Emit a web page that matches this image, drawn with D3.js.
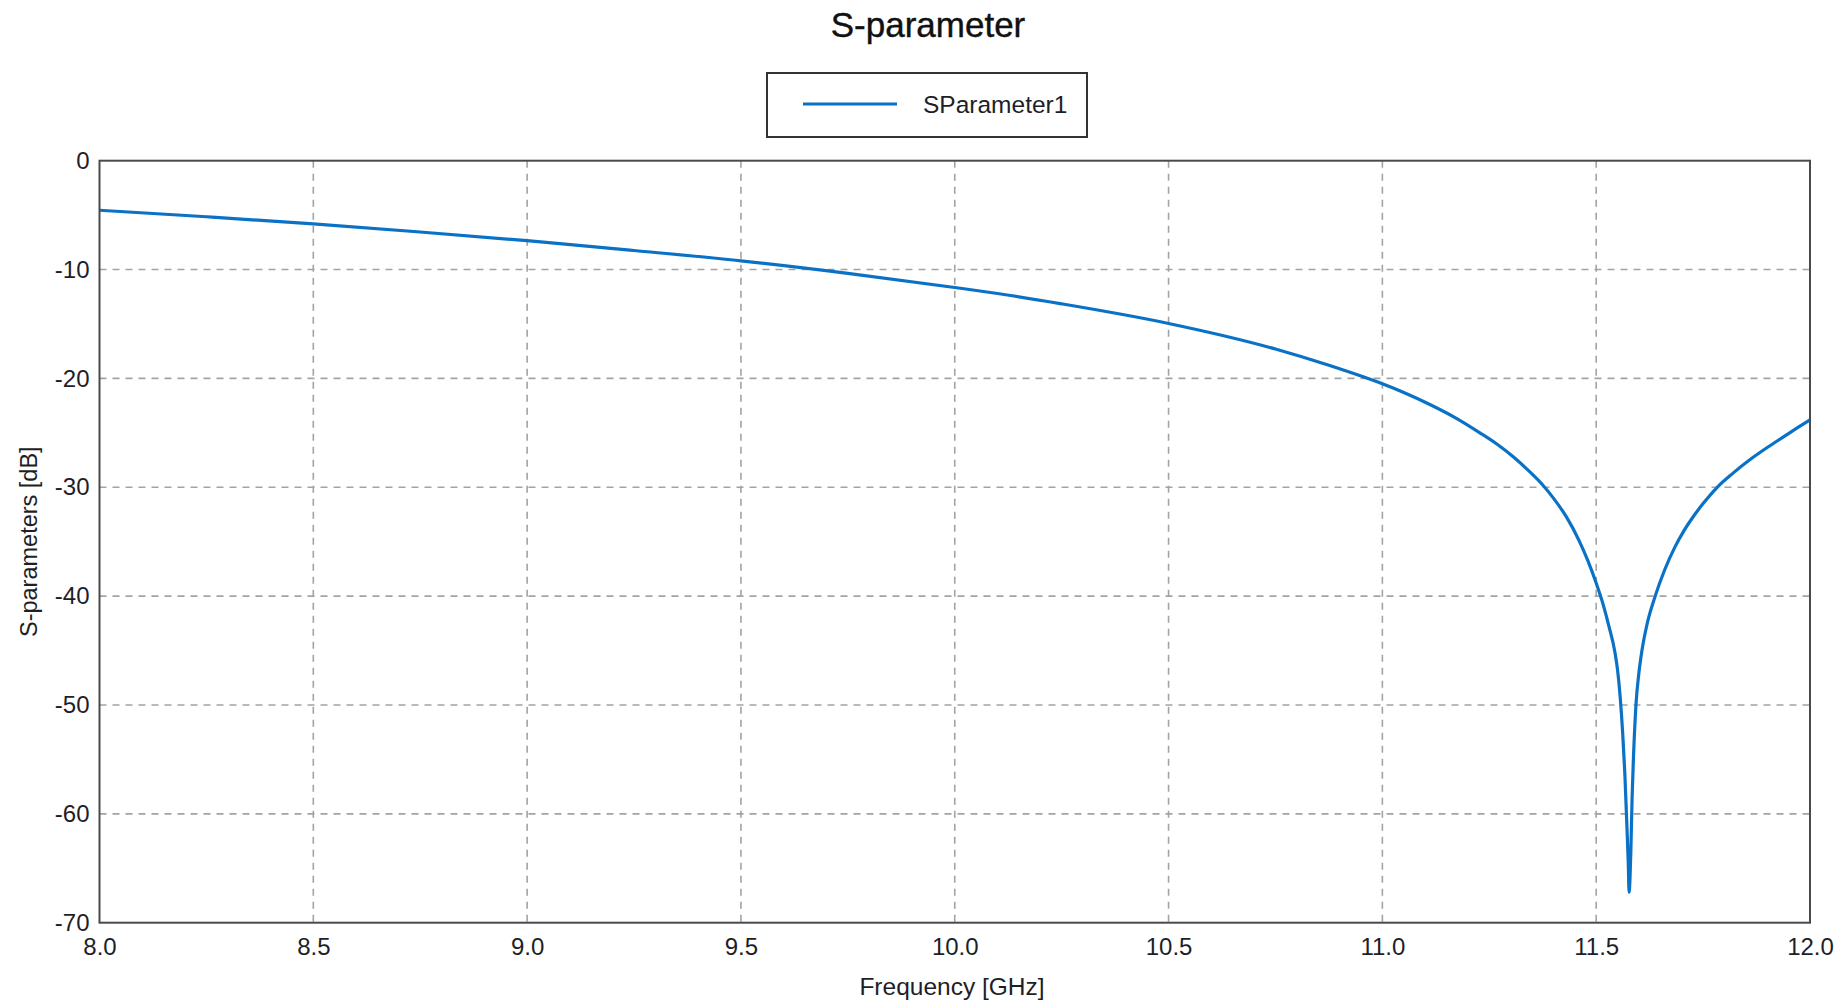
<!DOCTYPE html>
<html>
<head>
<meta charset="utf-8">
<script src="https://cdn.jsdelivr.net/npm/d3@7"></script>
<style>
  html, body { margin: 0; padding: 0; background: #fff; }
  svg { display: block; font-family: "Liberation Sans", Arial, sans-serif; }
</style>
</head>
<body>
<svg id="chart" width="1835" height="1004"></svg>
<script>
// ---- data ----
const title = "S-parameter";
const seriesName = "SParameter1";
const xLabel = "Frequency [GHz]";
const yLabel = "S-parameters [dB]";
const xTicks = [8.0, 8.5, 9.0, 9.5, 10.0, 10.5, 11.0, 11.5, 12.0];
const yTicks = [0, -10, -20, -30, -40, -50, -60, -70];
const freqGHz = [8.00, 8.25, 8.50, 8.75, 9.00, 9.25, 9.50, 9.75, 10.00, 10.10, 10.25, 10.50, 10.75, 10.875, 11.00,
  11.05, 11.111, 11.17, 11.228, 11.27, 11.306, 11.34, 11.373, 11.40, 11.43, 11.46, 11.48, 11.50, 11.515, 11.53,
  11.544, 11.550, 11.556, 11.562, 11.567, 11.572, 11.575, 11.577,
  11.579, 11.581, 11.584, 11.587, 11.593, 11.600, 11.607, 11.62, 11.638, 11.66, 11.684, 11.705, 11.726, 11.75,
  11.783, 11.82, 11.86, 11.90, 11.937, 11.97, 12.00];
const sParamDb = [-4.55, -5.15, -5.8, -6.55, -7.35, -8.25, -9.2, -10.35, -11.65, -12.2, -13.15, -14.95, -17.3, -18.8, -20.5,
  -21.3, -22.4, -23.6, -25.0, -26.1, -27.2, -28.4, -29.7, -31.0, -32.7, -34.9, -36.7, -38.8, -40.6, -42.8,
  -45.2, -46.8, -49.2, -52.6, -56.3, -61.3, -64.5, -67.2,
  -66.0, -63.5, -58.5, -55.0, -50.0, -47.0, -45.0, -42.4, -40.0, -37.6, -35.5, -34.0, -32.75, -31.5,
  -30.0, -28.7, -27.45, -26.35, -25.4, -24.55, -23.8];

// ---- layout ----
const svg = d3.select("#chart");
const plot = { left: 99.5, right: 1810, top: 160.7, bottom: 922.7 };
const x = d3.scaleLinear().domain([8, 12]).range([plot.left, plot.right]);
const y = d3.scaleLinear().domain([0, -70]).range([plot.top, plot.bottom]);
const fontSize = 24;
const textColor = "#1e1e28";

// grid
const grid = svg.append("g").attr("stroke", "#a3a3a3").attr("stroke-width", 1.6).attr("stroke-dasharray", "7,6");
grid.selectAll("line.v").data(xTicks.slice(1, -1)).join("line")
  .attr("x1", d => x(d)).attr("x2", d => x(d)).attr("y1", plot.top).attr("y2", plot.bottom);
grid.selectAll("line.h").data(yTicks.slice(1, -1)).join("line")
  .attr("x1", plot.left).attr("x2", plot.right).attr("y1", d => y(d)).attr("y2", d => y(d));

// axes (labels only, no tick marks)
const xAxis = d3.axisBottom(x).tickValues(xTicks).tickFormat(d3.format(".1f")).tickSize(0).tickPadding(16);
const gx = svg.append("g").attr("transform", `translate(0,${plot.bottom})`).call(xAxis);
const yAxis = d3.axisLeft(y).tickValues(yTicks).tickFormat(d => String(d)).tickSize(0).tickPadding(10);
const gy = svg.append("g").attr("transform", `translate(${plot.left},0)`).call(yAxis);
[gx, gy].forEach(g => {
  g.select(".domain").remove();
  g.selectAll("text").attr("font-size", fontSize).attr("fill", textColor)
    .attr("font-family", "'Liberation Sans', Arial, sans-serif");
});
gx.selectAll("text").attr("dy", "0.7em");

// curve
const line = d3.line().x((d, i) => x(freqGHz[i])).y(d => y(d)).curve(d3.curveMonotoneX);
svg.append("path").datum(sParamDb)
  .attr("d", line).attr("fill", "none").attr("stroke", "#0a72c6").attr("stroke-width", 3.2)
  .attr("stroke-linejoin", "round");

// frame
svg.append("rect").attr("x", plot.left).attr("y", plot.top)
  .attr("width", plot.right - plot.left).attr("height", plot.bottom - plot.top)
  .attr("fill", "none").attr("stroke", "#4a4a4a").attr("stroke-width", 2);

// title
svg.append("text").attr("x", 928).attr("y", 37).attr("text-anchor", "middle")
  .attr("font-size", 35).attr("fill", "#111").attr("stroke", "#111").attr("stroke-width", 0.4).text(title);

// legend
const lg = svg.append("g");
lg.append("rect").attr("x", 767).attr("y", 73).attr("width", 320).attr("height", 64)
  .attr("fill", "#fff").attr("stroke", "#333").attr("stroke-width", 2);
lg.append("line").attr("x1", 803).attr("x2", 897).attr("y1", 104).attr("y2", 104)
  .attr("stroke", "#0a72c6").attr("stroke-width", 3.2);
lg.append("text").attr("x", 923).attr("y", 113).attr("font-size", 24.5).attr("fill", textColor).text(seriesName);

// axis titles
svg.append("text").attr("x", 952).attr("y", 995).attr("text-anchor", "middle")
  .attr("font-size", 24.5).attr("fill", textColor).text(xLabel);
svg.append("text").attr("transform", `translate(37,${(plot.top + plot.bottom) / 2}) rotate(-90)`)
  .attr("text-anchor", "middle").attr("font-size", 23.5).attr("fill", textColor).text(yLabel);
</script>
</body>
</html>
